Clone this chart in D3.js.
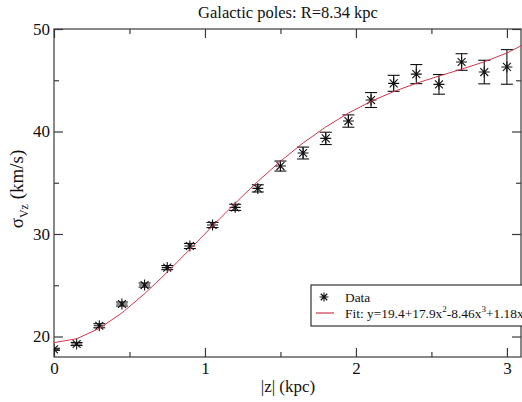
<!DOCTYPE html>
<html>
<head>
<meta charset="utf-8">
<script src="https://cdn.jsdelivr.net/npm/d3@7"></script>
<style>
  html, body { margin: 0; padding: 0; background: #fff; }
  svg { display: block; }
  svg text { font-family: "Liberation Serif", "Times New Roman", serif; fill: #111; }
</style>
</head>
<body>
<svg id="chart" width="522" height="402"></svg>
<script>
// Vertical velocity dispersion vs height above the plane
const zValues     = [0, 0.15, 0.3, 0.45, 0.6, 0.75, 0.9, 1.05, 1.2, 1.35, 1.5, 1.65, 1.8, 1.95, 2.1, 2.25, 2.4, 2.55, 2.7, 2.85, 3.0];
const sigmaValues = [18.75, 19.27, 21.05, 23.17, 25.02, 26.72, 28.83, 30.88, 32.6, 34.45, 36.63, 37.9, 39.33, 41.02, 43.07, 44.7, 45.6, 44.6, 46.78, 45.8, 46.3];
const sigmaErrors = [0.1, 0.15, 0.2, 0.2, 0.2, 0.2, 0.25, 0.25, 0.3, 0.35, 0.49, 0.58, 0.6, 0.6, 0.73, 0.78, 0.93, 0.96, 0.81, 1.15, 1.69];

// Polynomial fit evaluated on the same grid
const fitZ     = [0, 0.15, 0.3, 0.45, 0.6, 0.75, 0.9, 1.05, 1.2, 1.35, 1.5, 1.65, 1.8, 1.95, 2.1, 2.25, 2.4, 2.55, 2.7, 2.85, 3.0, 3.15];
const fitSigma = [19.40, 19.78, 20.79, 22.30, 24.17, 26.27, 28.51, 30.78, 33.00, 35.13, 37.10, 38.88, 40.44, 41.80, 42.94, 43.90, 44.70, 45.41, 46.08, 46.80, 47.66, 48.77];

const xTicks = [0, 1, 2, 3];
const xMinorTicks = [0.5, 1.5, 2.5];
const yTicks = [20, 30, 40, 50];
const yMinorTicks = [25, 35, 45];

const serif = "'Liberation Serif', 'Times New Roman', serif";
const svg = d3.select("#chart");
const plotLeft = 54, plotRight = 522, plotTop = 29, plotBottom = 357;

const x = d3.scaleLinear().domain([0, 3.1]).range([plotLeft, plotRight]);
const y = d3.scaleLinear().domain([18, 50]).range([plotBottom, plotTop]);

svg.append("rect").attr("width", 522).attr("height", 402).attr("fill", "#fff");

svg.append("defs").append("clipPath").attr("id", "plotClip")
  .append("rect").attr("x", plotLeft).attr("y", plotTop)
  .attr("width", plotRight - plotLeft).attr("height", plotBottom - plotTop);

const axisColor = "#3a3a3a";
const majorLen = 9, minorLen = 5;

// Bottom and top axes (ticks pointing inward)
const xBottom = d3.axisBottom(x).tickValues(xTicks).tickSizeInner(-majorLen).tickSizeOuter(0)
  .tickPadding(5).tickFormat(d3.format("d"));
const gxb = svg.append("g").attr("transform", `translate(0,${plotBottom})`).call(xBottom);
gxb.selectAll("text").style("font-size", "17px");

const xTop = d3.axisTop(x).tickValues(xTicks).tickSizeInner(-majorLen).tickSizeOuter(0).tickFormat("");
svg.append("g").attr("transform", `translate(0,${plotTop})`).call(xTop);

const xMinB = d3.axisBottom(x).tickValues(xMinorTicks).tickSizeInner(-minorLen).tickSizeOuter(0).tickFormat("");
svg.append("g").attr("transform", `translate(0,${plotBottom})`).call(xMinB);
const xMinT = d3.axisTop(x).tickValues(xMinorTicks).tickSizeInner(-minorLen).tickSizeOuter(0).tickFormat("");
svg.append("g").attr("transform", `translate(0,${plotTop})`).call(xMinT);

// Left and right axes
const yLeft = d3.axisLeft(y).tickValues(yTicks).tickSizeInner(-majorLen).tickSizeOuter(0)
  .tickPadding(4).tickFormat(d3.format("d"));
const gyl = svg.append("g").attr("transform", `translate(${plotLeft},0)`).call(yLeft);
gyl.selectAll("text").style("font-size", "17px");

const yRight = d3.axisRight(y).tickValues(yTicks).tickSizeInner(-majorLen).tickSizeOuter(0).tickFormat("");
svg.append("g").attr("transform", `translate(${plotRight - 1},0)`).call(yRight);

const yMinL = d3.axisLeft(y).tickValues(yMinorTicks).tickSizeInner(-minorLen).tickSizeOuter(0).tickFormat("");
svg.append("g").attr("transform", `translate(${plotLeft},0)`).call(yMinL);
const yMinR = d3.axisRight(y).tickValues(yMinorTicks).tickSizeInner(-minorLen).tickSizeOuter(0).tickFormat("");
svg.append("g").attr("transform", `translate(${plotRight - 1},0)`).call(yMinR);

svg.selectAll(".domain").remove();
svg.selectAll("g").attr("font-family", serif);
svg.selectAll(".tick line").attr("stroke", axisColor).attr("stroke-width", 1.2);
svg.selectAll(".tick text").attr("fill", "#111").style("font-family", serif);

// Frame
svg.append("rect")
  .attr("x", plotLeft).attr("y", plotTop)
  .attr("width", plotRight - 1 - plotLeft).attr("height", plotBottom - plotTop)
  .attr("fill", "none").attr("stroke", axisColor).attr("stroke-width", 1.2);

const plot = svg.append("g").attr("clip-path", "url(#plotClip)");

const data = zValues.map((z, i) => ({ z, s: sigmaValues[i], e: sigmaErrors[i] }));

// Error bars
const capHalf = 6;
const eb = plot.append("g").attr("stroke", "#111").attr("stroke-width", 1.1);
data.forEach(d => {
  const cx = x(d.z), ylo = y(d.s - d.e), yhi = y(d.s + d.e);
  eb.append("line").attr("x1", cx).attr("x2", cx).attr("y1", ylo).attr("y2", yhi);
  eb.append("line").attr("x1", cx - capHalf).attr("x2", cx + capHalf).attr("y1", ylo).attr("y2", ylo);
  eb.append("line").attr("x1", cx - capHalf).attr("x2", cx + capHalf).attr("y1", yhi).attr("y2", yhi);
});

// Asterisk marker
function asterisk(g, cx, cy, r) {
  const d = r * 0.72;
  const p = `M${cx},${cy - r}V${cy + r}M${cx - r},${cy}H${cx + r}` +
            `M${cx - d},${cy - d}L${cx + d},${cy + d}M${cx - d},${cy + d}L${cx + d},${cy - d}`;
  g.append("path").attr("d", p).attr("stroke", "#111").attr("stroke-width", 1.1).attr("fill", "none");
}
const mk = plot.append("g");
data.forEach(d => asterisk(mk, x(d.z), y(d.s), 5.5));

// Fit curve
const fitLine = d3.line().x((d, i) => x(fitZ[i])).y(d => y(d));
plot.append("path").datum(fitSigma)
  .attr("d", fitLine)
  .attr("fill", "none").attr("stroke", "#d0384c").attr("stroke-width", 1);

// Title and axis labels
svg.append("text").attr("x", 288).attr("y", 18).attr("text-anchor", "middle")
  .style("font-family", serif).style("font-size", "16.5px").text("Galactic poles: R=8.34 kpc");

svg.append("text").attr("x", 288).attr("y", 392).attr("text-anchor", "middle")
  .style("font-family", serif).style("font-size", "17px").text("|z| (kpc)");

const ylab = svg.append("text").attr("transform", "translate(23,189) rotate(-90)")
  .attr("text-anchor", "middle").style("font-family", serif).style("font-size", "19px");
ylab.append("tspan").text("σ");
ylab.append("tspan").attr("dy", 5).style("font-size", "12px").text("Vz");
ylab.append("tspan").attr("dy", -5).text(" (km/s)");

// Legend
const lg = svg.append("g");
lg.append("rect").attr("x", 311).attr("y", 285).attr("width", 240).attr("height", 41)
  .attr("fill", "#fff").attr("stroke", "#333").attr("stroke-width", 1.2);
asterisk(lg, 324, 297, 4.5);
lg.append("text").attr("x", 345).attr("y", 302)
  .style("font-family", serif).style("font-size", "13.4px").text("Data");
lg.append("line").attr("x1", 316).attr("x2", 334).attr("y1", 313).attr("y2", 313)
  .attr("stroke", "#d0384c").attr("stroke-width", 1.2);
const ft = lg.append("text").attr("x", 345).attr("y", 318)
  .style("font-family", serif).style("font-size", "13.4px");
ft.append("tspan").text("Fit: y=19.4+17.9x");
ft.append("tspan").attr("dy", -6).style("font-size", "9px").text("2");
ft.append("tspan").attr("dy", 6).text("-8.46x");
ft.append("tspan").attr("dy", -6).style("font-size", "9px").text("3");
ft.append("tspan").attr("dy", 6).text("+1.18x");
ft.append("tspan").attr("dy", -6).style("font-size", "9px").text("4");
</script>
</body>
</html>
